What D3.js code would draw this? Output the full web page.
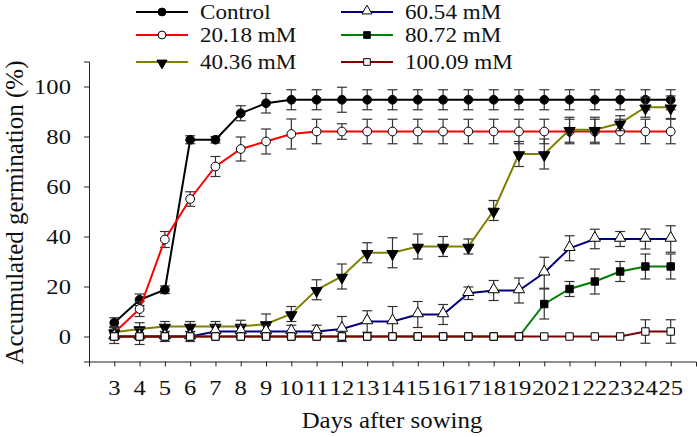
<!DOCTYPE html>
<html><head><meta charset="utf-8">
<script src="https://cdn.jsdelivr.net/npm/d3@7"></script>
<style>
html,body{margin:0;padding:0;background:#fff;}
</style></head>
<body><svg id="c" width="697" height="437"></svg>
<script>
const days = [3,4,5,6,7,8,9,10,11,12,13,14,15,16,17,18,19,20,21,22,23,24,25];
const yTicks = [0,20,40,60,80,100];
const seriesNames = ["Control","20.18 mM","40.36 mM","60.54 mM","80.72 mM","100.09 mM"];
const control = [5.5,14.7,18.7,78.7,78.7,89.3,93.3,94.7,94.7,94.7,94.7,94.7,94.7,94.7,94.7,94.7,94.7,94.7,94.7,94.7,94.7,94.7,94.7];
const controlErr = [2,2.3,1.5,1.6,1.3,3,3.9,4,4,5,4,4,4,4,4,4,4,4,4,4,4,4,4];
const m20 = [1.5,11,38.8,55,68,75,78,81,82,82,82,82,82,82,82,82,82,82,82,82,82,82,82];
const m20Err = [2.5,3,3.2,2.9,4,4.8,5,6,4.9,3.1,4.9,4.9,4.9,4.9,4.9,4.9,4.9,4.9,4.9,4.9,4.9,4.9,4.9];
const m40 = [1.7,3,4,4,4,4,5,9,18.7,24,33.5,33.5,36,36,36,50.4,73,73,82.7,82.7,85.3,91.7,91.7];
const m40Err = [2,2.5,2,2,2,2.5,4,3,4,5,4,6,5,4,3,4,5,6,5,5,3,4,4.5];
const m60 = [0,0,0,0,2,2,2,2,2,3,6,6,8.8,8.8,17.3,18.4,18.4,25.5,35.3,39,39,39,39];
const m60Err = [2.8,3.2,2,2,2.5,2.5,2.5,2.5,2.5,5,4.3,6,5.2,4,2.5,4,5,6.2,5,3.9,3,4,5.3];
const m80 = [0,0,0,0,0,0,0,0,0,0,0,0,0,0,0,0,0,13,19,22,26,28,28];
const m80Err = [0,0,0,0,0,0,0,0,0,0,0,0,0,0,0,0,0,6,3,5,4,5,5];
const m100 = [0,0,0,0,0,0,0,0,0,0,0,0,0,0,0,0,0,0,0,0,0,2,2];
const m100Err = [0,0,0,0,0,0,0,0,0,0,0,0,0,0,0,0,0,0,0,0,0,4.7,4.7];

const series = [
  {name:seriesNames[0], vals:control, err:controlErr, color:"#000000", sym:d3.symbolCircle, fill:"#000", size:60},
  {name:seriesNames[1], vals:m20, err:m20Err, color:"#ff0000", sym:d3.symbolCircle, fill:"#fff", size:60},
  {name:seriesNames[2], vals:m40, err:m40Err, color:"#808000", sym:"down", fill:"#000", size:55},
  {name:seriesNames[3], vals:m60, err:m60Err, color:"#000080", sym:d3.symbolTriangle, fill:"#fff", size:55},
  {name:seriesNames[4], vals:m80, err:m80Err, color:"#008000", sym:d3.symbolSquare, fill:"#000", size:55},
  {name:seriesNames[5], vals:m100, err:m100Err, color:"#800000", sym:d3.symbolSquare, fill:"#fff", size:55}
];

const FONT = "Liberation Serif";
const svg = d3.select("#c");
const x = d3.scaleLinear().domain([2,26]).range([89,696]);
const y = d3.scaleLinear().domain([-10,110]).range([361.5,61.5]);

// axes
const xAxis = svg.append("g").attr("transform","translate(0,361.5)")
  .call(d3.axisBottom(x).tickValues(days).tickSize(5).tickFormat(""));
const yAxis = svg.append("g").attr("transform","translate(89,0)")
  .call(d3.axisLeft(y).tickValues(yTicks).tickSize(5).tickFormat(""));
[xAxis,yAxis].forEach(a=>{a.selectAll("path,line").attr("stroke","#222").attr("stroke-width",1);});

// tick labels (stretched horizontally to match)
svg.append("g").selectAll("text").data(days).join("text")
  .attr("font-family",FONT).attr("fill","#111")
  .attr("transform",d=>`translate(${x(d)},395) scale(1.12,1)`)
  .attr("text-anchor","middle").attr("font-size",22).text(d=>d);
svg.append("g").selectAll("text").data(yTicks).join("text")
  .attr("font-family",FONT).attr("fill","#111")
  .attr("transform",d=>`translate(71,${y(d)+7.5}) scale(1.12,1)`)
  .attr("text-anchor","end").attr("font-size",22).text(d=>d);

// axis titles
svg.append("text").attr("font-family",FONT).attr("fill","#111").attr("transform","translate(392,427.5) scale(1.08,1)")
  .attr("text-anchor","middle").attr("font-size",23).text("Days after sowing");
svg.append("text").attr("font-family",FONT).attr("fill","#111").attr("transform","translate(23,212.5) rotate(-90)")
  .attr("text-anchor","middle").attr("font-size",25).text("Accumulated germination (%)");

function symPath(s){
  if(s.sym==="down") return d3.symbol(d3.symbolTriangle, s.size)();
  return d3.symbol(s.sym, s.size)();
}
function symTransform(s, px, py){
  if(s.sym==="down") return `translate(${px},${py+1}) rotate(180)`;
  if(s.sym===d3.symbolTriangle) return `translate(${px},${py-1})`;
  return `translate(${px},${py})`;
}

const line = d3.line().x(d=>x(d[0])).y(d=>y(d[1]));
const plot = svg.append("g");
series.forEach(s=>{
  const pts = days.map((d,i)=>[d,s.vals[i],s.err[i]]);
  const g = plot.append("g");
  const eb = g.append("g").attr("stroke","#333").attr("stroke-width",1.2);
  pts.filter(p=>p[2]>0).forEach(p=>{
    const cx=x(p[0]), y1=y(p[1]+p[2]), y2=y(p[1]-p[2]);
    eb.append("line").attr("x1",cx).attr("x2",cx).attr("y1",y1).attr("y2",y2);
    eb.append("line").attr("x1",cx-5).attr("x2",cx+5).attr("y1",y1).attr("y2",y1);
    eb.append("line").attr("x1",cx-5).attr("x2",cx+5).attr("y1",y2).attr("y2",y2);
  });
  g.append("path").attr("d",line(pts)).attr("fill","none").attr("stroke",s.color).attr("stroke-width",2);
  g.selectAll("path.m").data(pts).join("path").attr("class","m")
    .attr("d",symPath(s)).attr("transform",p=>symTransform(s,x(p[0]),y(p[1])))
    .attr("fill",s.fill).attr("stroke","#000").attr("stroke-width",1);
});

// legend
const legX = [136,341];
const legY = [12,35,62];
series.forEach((s,i)=>{
  const col = Math.floor(i/3), row = i%3;
  const lx = legX[col], ly = legY[row];
  const g = svg.append("g");
  g.append("line").attr("x1",lx).attr("x2",lx+52).attr("y1",ly).attr("y2",ly)
    .attr("stroke",s.color).attr("stroke-width",2);
  g.append("path").attr("d",d3.symbol(s.sym==="down"?d3.symbolTriangle:s.sym, s.size*0.8)())
    .attr("transform",symTransform(s,lx+26,ly)).attr("fill",s.fill).attr("stroke","#000").attr("stroke-width",1);
  g.append("text").attr("font-family",FONT).attr("fill","#111").attr("transform",`translate(${lx+64},${ly+7}) scale(1.1,1)`)
    .attr("font-size",21).text(s.name);
});
</script></body></html>
